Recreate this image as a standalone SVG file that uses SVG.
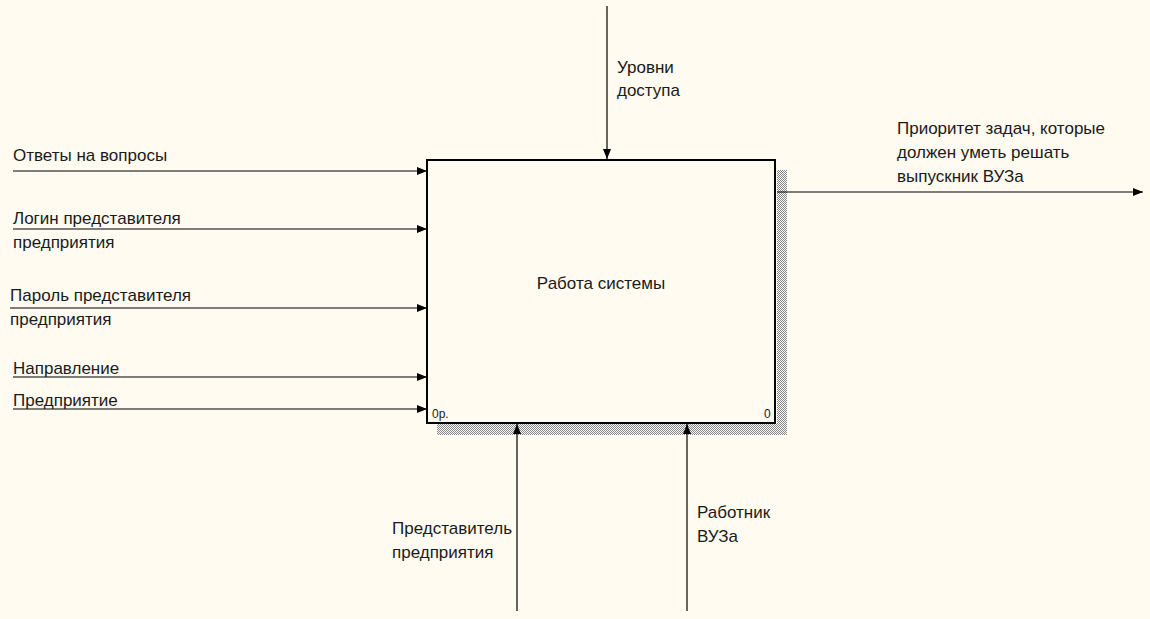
<svg xmlns="http://www.w3.org/2000/svg" width="1150" height="619" viewBox="0 0 1150 619">
<style>
text{font-family:"Liberation Sans",Arial,sans-serif;font-size:17px;fill:#1a1a1a}
.small{font-size:12px}
.ln{stroke:#000;stroke-width:1.2;fill:none}
</style>
<defs>
<pattern id="hatch" width="2" height="2" patternUnits="userSpaceOnUse">
<rect width="2" height="2" fill="#f6f6f6"/>
<rect width="1" height="1" fill="#8a8a8a"/>
<rect x="1" y="1" width="1" height="1" fill="#8a8a8a"/>
</pattern>
<marker id="arr" viewBox="0 0 10 8" refX="10" refY="4" markerWidth="10" markerHeight="8" markerUnits="userSpaceOnUse" orient="auto">
<path d="M0,0 L10,4 L0,8 Z" fill="#000"/>
</marker>
</defs>
<rect width="1150" height="619" fill="#FFFBF0"/>
<g id="node-A0">
<rect x="777" y="170" width="10" height="265" fill="url(#hatch)"/>
<rect x="437" y="424" width="350" height="11" fill="url(#hatch)"/>
<rect x="427" y="160" width="348" height="263" fill="#FFFBF0" stroke="#000" stroke-width="2"/>
<text x="601" y="289" text-anchor="middle">Работа системы</text>
<text class="small" x="432" y="418">0р.</text>
<text class="small" x="764" y="418">0</text>
</g>
<g id="connectors">
<line class="ln" x1="13" y1="171" x2="427" y2="171" marker-end="url(#arr)"/>
<line class="ln" x1="13" y1="229" x2="427" y2="229" marker-end="url(#arr)"/>
<line class="ln" x1="10" y1="308" x2="427" y2="308" marker-end="url(#arr)"/>
<line class="ln" x1="13" y1="377" x2="427" y2="377" marker-end="url(#arr)"/>
<line class="ln" x1="13" y1="409" x2="427" y2="409" marker-end="url(#arr)"/>
<line class="ln" x1="607" y1="6" x2="607" y2="159" marker-end="url(#arr)"/>
<line class="ln" x1="777" y1="192" x2="1143" y2="192" marker-end="url(#arr)"/>
<line class="ln" x1="517" y1="611" x2="517" y2="424" marker-end="url(#arr)"/>
<line class="ln" x1="687" y1="611" x2="687" y2="424" marker-end="url(#arr)"/>
<text x="13" y="161">Ответы на вопросы</text>
<text x="13" y="224">Логин представителя</text>
<text x="13" y="248">предприятия</text>
<text x="10" y="301">Пароль представителя</text>
<text x="10" y="325">предприятия</text>
<text x="13" y="374">Направление</text>
<text x="13" y="406">Предприятие</text>
<text x="617" y="73">Уровни</text>
<text x="617" y="96">доступа</text>
<text x="897" y="134">Приоритет задач, которые</text>
<text x="897" y="158">должен уметь решать</text>
<text x="897" y="182">выпускник ВУЗа</text>
<text x="392" y="534">Представитель</text>
<text x="392" y="558">предприятия</text>
<text x="697" y="518">Работник</text>
<text x="697" y="542">ВУЗа</text>
</g>
</svg>
